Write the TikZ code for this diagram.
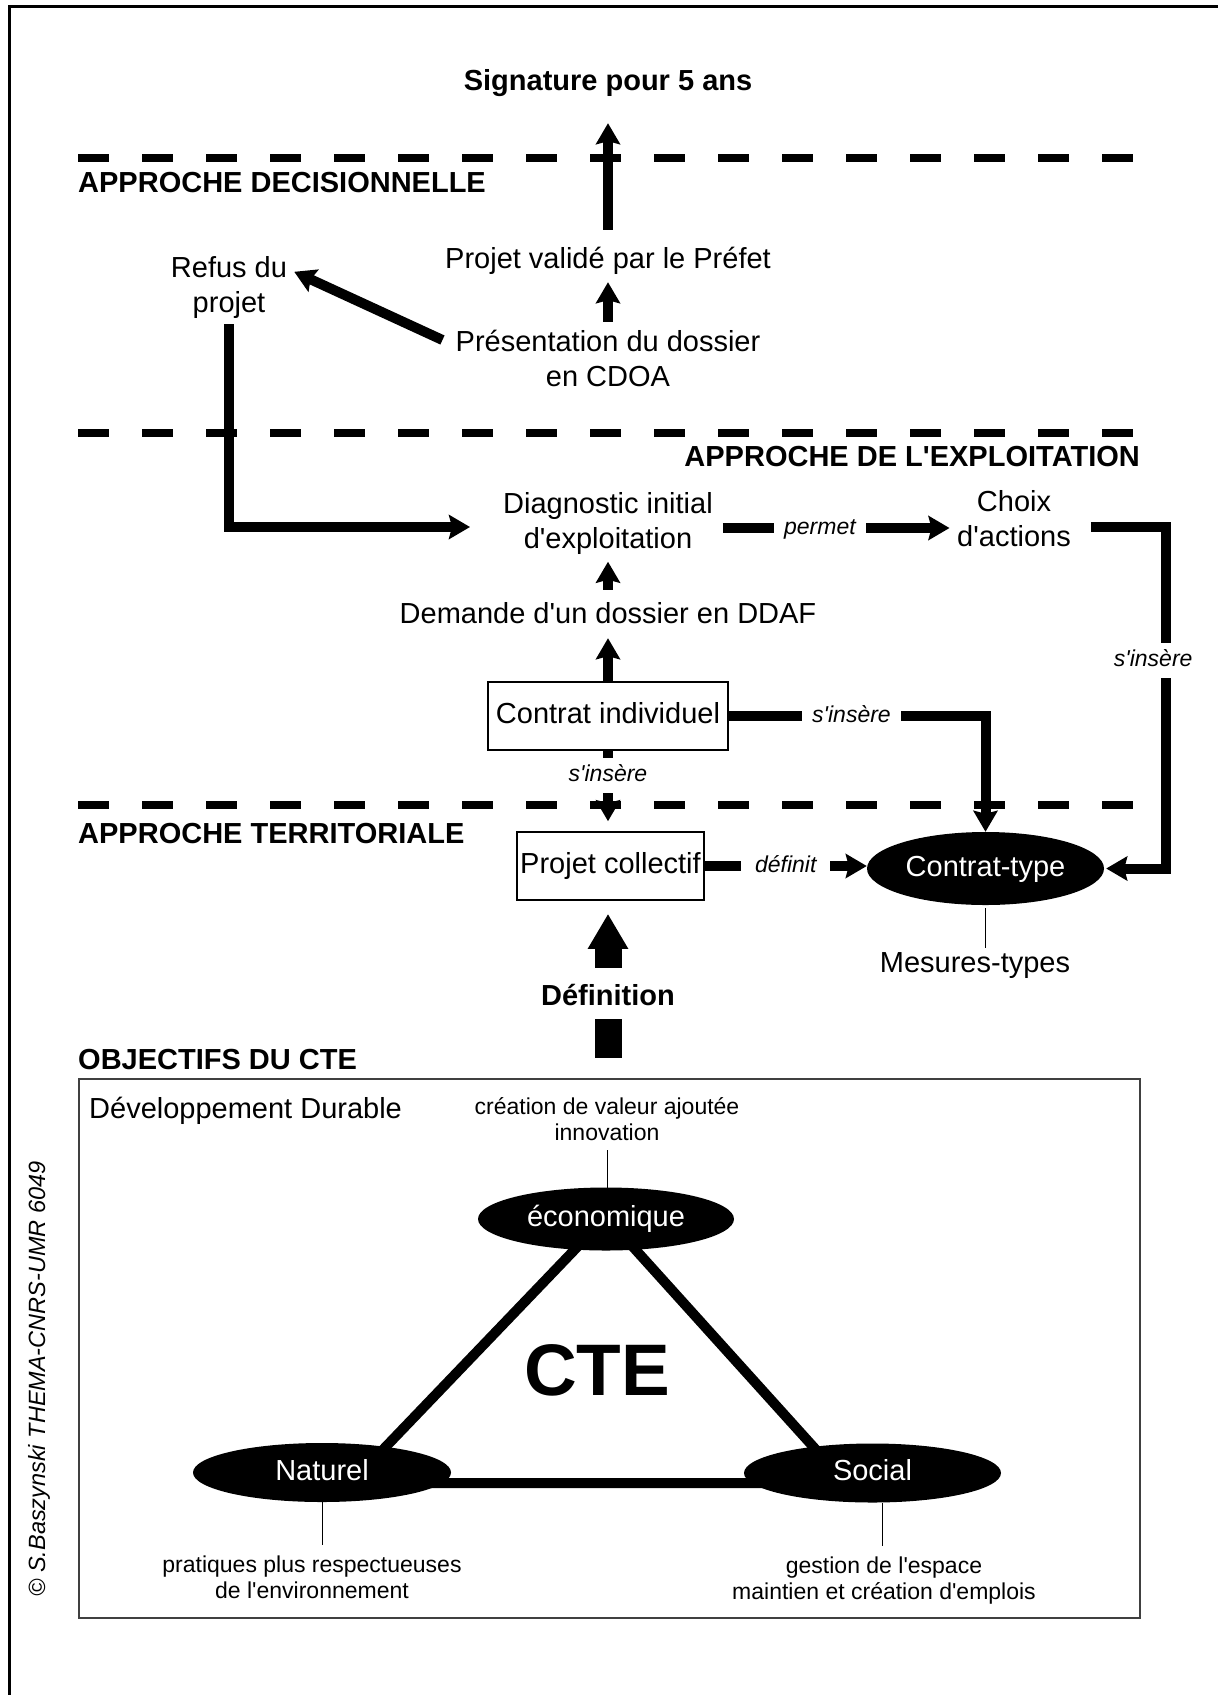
\documentclass[tikz,border=0pt]{standalone}
\usepackage{fontspec}
\setmainfont{Liberation Sans}[Ligatures=TeXOff]
\usetikzlibrary{arrows.meta,calc,shapes.geometric,backgrounds}
\begin{document}
\begin{tikzpicture}[x=1pt,y=-1pt,
  every node/.style={inner sep=0pt},
  main/.style={font=\fontsize{29}{35}\selectfont, align=center},
  one/.style={font=\fontsize{29}{35}\selectfont, text height=21pt, text depth=6pt},
  head/.style={font=\fontsize{29}{35}\selectfont\bfseries, text height=21pt, text depth=6pt},
  small/.style={font=\fontsize{23}{26}\selectfont, align=center},
  lbl/.style={font=\fontsize{23}{26}\selectfont\itshape, fill=white, text height=17pt, text depth=4pt, inner xsep=10pt, inner ysep=7pt},
  conn/.style={line width=10pt},
  arr/.style={conn, -{Stealth[length=21pt,width=24pt,inset=3pt]}},
  boxnode/.style={one, draw, line width=1.6pt, minimum height=68pt},
  blob/.style={ellipse, fill=black, text=white, font=\fontsize{29}{35}\selectfont, text height=21pt, text depth=6pt},
  sep/.style={line width=7.5pt, dash pattern=on 31pt off 33pt},
  fine/.style={line width=1pt},
]
\useasboundingbox (0,0) rectangle (1218,1695);
\begin{pgfonlayer}{background}
\fill[white] (0,0) rectangle (1218,1695);
\end{pgfonlayer}

% outer frame (cropped)
\draw[line width=3pt] (9,1695) -- (9,6) -- (1218,6);

% separators
\draw[sep] (78,158) -- (1134,158);
\draw[sep] (78,433) -- (1134,433);
\draw[sep] (78,805) -- (1134,805);

% nodes
\node[head] (sig) at (608,82.5) {Signature pour 5 ans};
\node[head, anchor=west] (ldec) at (78,185) {APPROCHE DECISIONNELLE};
\node[one] (valide) at (608,260.5) {Projet validé par le Préfet};
\node[main] (refus) at (229,287) {Refus du\\projet};
\node[main] (cdoa) at (608,358.5) {Présentation du dossier\\en CDOA};
\node[head, anchor=east] (lexp) at (1140,458.5) {APPROCHE DE L'EXPLOITATION};
\node[main] (diag) at (608,523.5) {Diagnostic initial\\d'exploitation};
\node[main] (choix) at (1014,519) {Choix\\d'actions};
\node[one] (demande) at (608,615.5) {Demande d'un dossier en DDAF};
\node[boxnode, minimum width=240pt] (indiv) at (608,716) {Contrat individuel};
\node[head, anchor=west] (lterr) at (78,835.5) {APPROCHE TERRITORIALE};
\node[boxnode, minimum width=187pt] (coll) at (610.5,866) {Projet collectif};
\node[blob, minimum width=237pt, minimum height=73pt] (ctype) at (985.5,868.5) {Contrat-type};
\node[one] (mesures) at (975,964.5) {Mesures-types};
\node[head] (defin) at (608,997.5) {Définition};
\node[head, anchor=west] (lobj) at (78,1062) {OBJECTIFS DU CTE};
\node[draw=black!75, line width=2pt, minimum width=1061pt, minimum height=539pt] (obj) at (609.5,1348.5) {};
\node[one, anchor=west] (devdur) at (89,1110.5) {Développement Durable};
\node[small] (creation) at (607,1119.5) {création de valeur ajoutée\\innovation};
\node[blob, minimum width=256pt, minimum height=63pt] (eco) at (606,1219) {économique};
\node[blob, minimum width=258pt, minimum height=59pt] (nat) at (322,1472.5) {Naturel};
\node[blob, minimum width=257pt, minimum height=59pt] (soc) at (872.5,1473) {Social};
\node[font=\fontsize{73}{80}\selectfont\bfseries] (cte) at (597,1370) {CTE};
\node[small] (prat) at (312,1577.5) {pratiques plus respectueuses\\de l'environnement};
\node[small] (gest) at (884,1580.5) {gestion de l'espace\\maintien et création d'emplois};
\node[rotate=90, font=\fontsize{23.5}{26}\selectfont\itshape] (copy) at (39,1379) {© S.Baszynski THEMA-CNRS-UMR 6049};

% connectors
\draw[arr] ($(valide.north)+(0,-17)$) -- ($(sig.south)+(0,27)$);
\draw[arr] ($(cdoa.north)+(0,-8)$) -- ($(valide.south)+(0,8)$);
\draw[arr] ($(cdoa.north west)+(-13,10)$) -- ($(refus.north east)+(7,16)$);
\draw[arr] ($(refus.south)+(0,6)$) |- ($(diag.west)+(-33,3.5)$);
\draw[arr] ($(diag.east)+(10,4.5)$) -- node[lbl, pos=0.428]{permet} ($(choix.west)+(-7.5,9)$);
\draw[arr] ($(choix.east)+(20,8)$) -| node[lbl, pos=0.695, xshift=-13pt]{s'insère} ($(ctype.east)+(62,0)$) -- ($(ctype.east)+(2,0)$);
\draw[arr] ($(demande.north)+(0,-12)$) -- ($(diag.south)+(0,7)$);
\draw[arr] (indiv.north) -- ($(demande.south)+(0,9)$);
\draw[arr] (indiv.east) -| node[lbl, pos=0.239]{s'insère} (ctype.north);
\draw[arr] (indiv.south) -- node[lbl, pos=0.35]{s'insère} ($(indiv.south |- coll.north)+(0,-10)$);
\draw[arr] (coll.east) -- node[lbl, inner xsep=14pt, pos=0.5]{définit} (coll.east -| ctype.west);
\draw[fine] ($(ctype.south)+(0,3)$) -- ($(ctype.south |- mesures.north)+(0,-3)$);

% Definition arrow and bar
\draw[line width=27pt, -{Triangle[length=35pt,width=38pt]}] ($(defin.north)+(0,-16)$) -- ($(defin.north |- coll.south)+(0,13)$);
\draw[line width=27pt] ($(defin.south)+(0,8)$) -- ($(defin.south)+(0,47)$);

% triangle
\begin{pgfonlayer}{background}
\draw[line width=10pt] ($(eco.center)+(0,-2)$) -- ($(nat.center)+(29,10.5)$) -- ($(soc.center)+(-26.5,10)$) -- cycle;
\end{pgfonlayer}

% thin lines
\draw[fine] ($(creation.south)+(0,9)$) -- ($(creation.south |- eco.north)+(0,2)$);
\draw[fine] (nat.south) -- ($(nat.south |- prat.north)+(0,-11)$);
\draw[fine] ($(gest.north)+(-2,-11)$) -- ($(soc.south -| gest.north)+(-2,0)$);
\end{tikzpicture}
\end{document}
